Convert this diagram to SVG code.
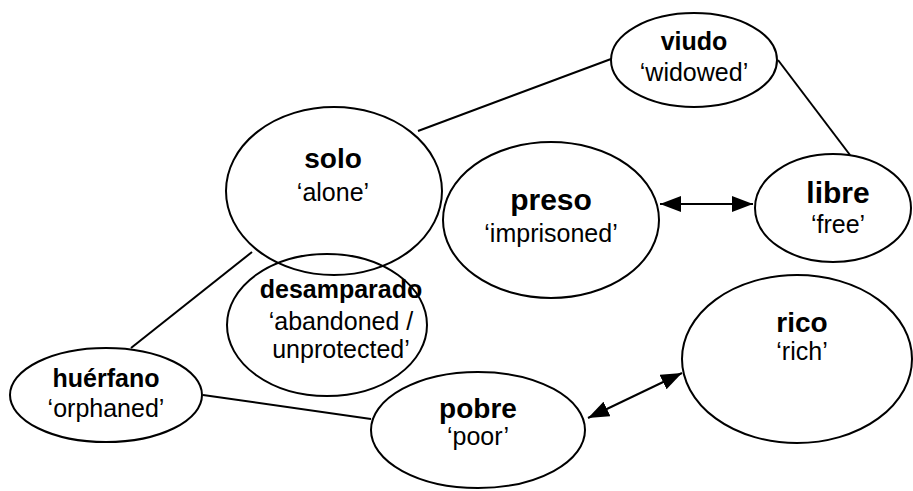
<svg xmlns="http://www.w3.org/2000/svg" width="913" height="491" viewBox="0 0 913 491">
<defs>
<style>
.n{fill:none;stroke:#000;stroke-width:2}
.c line{stroke:#000;stroke-width:2}
text{font-family:"Liberation Sans",Arial,sans-serif;text-anchor:middle;fill:#000}
.t{font-weight:bold;font-size:28px}
.tb{font-weight:bold;font-size:30px}
.ts{font-weight:bold;font-size:25px}
.g{font-size:25px}
</style>
<marker id="ah" viewBox="0 0 10 10" refX="10" refY="5" markerWidth="21" markerHeight="16" markerUnits="userSpaceOnUse" orient="auto-start-reverse" preserveAspectRatio="none">
<path d="M0,0 L10,5 L0,10 Z" fill="#000"/>
</marker>
</defs>
<g id="connectors" class="c">
<line x1="418" y1="131" x2="611" y2="59"/>
<line x1="778" y1="60" x2="850" y2="155"/>
<line x1="131" y1="348" x2="252" y2="252"/>
<line x1="203" y1="395" x2="371" y2="419"/>
<line x1="660" y1="204" x2="753" y2="204" marker-start="url(#ah)" marker-end="url(#ah)"/>
<line x1="588" y1="418" x2="682" y2="373" marker-start="url(#ah)" marker-end="url(#ah)"/>
</g>
<g id="viudo">
<ellipse class="n" cx="694" cy="60" rx="83" ry="47"/>
<text class="ts" x="694" y="50">viudo</text>
<text class="g" x="694" y="81">‘widowed’</text>
</g>
<g id="solo">
<ellipse class="n" cx="334" cy="191" rx="108" ry="84"/>
<text class="t" x="333" y="168">solo</text>
<text class="g" x="333" y="201">‘alone’</text>
</g>
<g id="preso">
<ellipse class="n" cx="551" cy="220" rx="108" ry="78"/>
<text class="tb" x="551" y="210">preso</text>
<text class="g" x="551" y="242">‘imprisoned’</text>
</g>
<g id="libre">
<ellipse class="n" cx="833" cy="208" rx="78" ry="54"/>
<text class="tb" x="838" y="203">libre</text>
<text class="g" x="838" y="233">‘free’</text>
</g>
<g id="desamparado">
<ellipse class="n" cx="327" cy="325" rx="100" ry="71"/>
<text class="ts" x="341" y="298">desamparado</text>
<text class="g" x="341" y="330">‘abandoned /</text>
<text class="g" x="341" y="358">unprotected’</text>
</g>
<g id="huerfano">
<ellipse class="n" cx="106" cy="395" rx="96" ry="47"/>
<text class="ts" x="106" y="387">huérfano</text>
<text class="g" x="106" y="417">‘orphaned’</text>
</g>
<g id="pobre">
<ellipse class="n" cx="478" cy="430" rx="107" ry="58"/>
<text class="t" x="478" y="418">pobre</text>
<text class="g" x="478" y="445">‘poor’</text>
</g>
<g id="rico">
<ellipse class="n" cx="797" cy="359" rx="115" ry="84"/>
<text class="t" x="802" y="332">rico</text>
<text class="g" x="802" y="360">‘rich’</text>
</g>
</svg>
